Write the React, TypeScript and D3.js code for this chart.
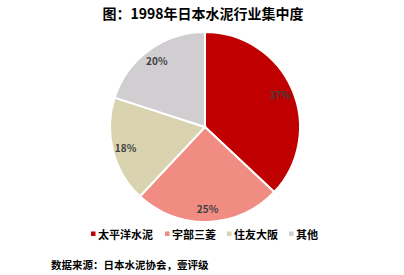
import React from "react";
import * as d3 from "d3";

const categories = ["太平洋水泥", "宇部三菱", "住友大阪", "其他"];
const values = [37, 25, 18, 20];
const colors = ["#C00000", "#F08C82", "#D9D3AF", "#D0CED1"];
const title = "图：1998年日本水泥行业集中度";
const source = "数据来源：日本水泥协会，壹评级";

const W = 404;
const H = 275;
const cx = 205;
const cy = 127;
const R = 95;
const font = "'Noto Sans CJK SC', 'Microsoft YaHei', sans-serif";

export default function App() {
  const pie = d3.pie<number>().sort(null).value((d) => d)(values);
  const arc = d3.arc<d3.PieArcDatum<number>>().innerRadius(0).outerRadius(R);
  const labelArc = d3.arc<d3.PieArcDatum<number>>().innerRadius(82).outerRadius(82);
  const legendX = [91, 165, 227, 289];
  return (
    <svg width={W} height={H} style={{ position: "absolute", left: 0, top: 0 }} fontFamily={font}>
      <rect width={W} height={H} fill="#fff" />
      <text x={203} y={19} textAnchor="middle" fontSize={14} fontWeight="bold" fill="#000">{title}</text>
      <g transform={`translate(${cx},${cy})`}>
        {pie.map((p, i) => (
          <path key={i} d={arc(p) || ""} fill={colors[i]} stroke="#fff" strokeWidth={2} />
        ))}
        {pie.map((p, i) => {
          const [x, y] = labelArc.centroid(p);
          return (
            <text key={"l" + i} x={x} y={y} textAnchor="middle" dominantBaseline="central" fontSize={10} fontWeight="bold" fill="#404040">
              {values[i]}%
            </text>
          );
        })}
      </g>
      {categories.map((c, i) => (
        <g key={c}>
          <rect x={legendX[i]} y={231.5} width={4.5} height={4.5} fill={colors[i]} />
          <text x={legendX[i] + 7} y={234} dominantBaseline="central" fontSize={11} fontWeight="bold" fill="#000">{c}</text>
        </g>
      ))}
      <text x={51} y={264} dominantBaseline="central" fontSize={10.5} fontWeight="bold" fill="#000">{source}</text>
    </svg>
  );
}
